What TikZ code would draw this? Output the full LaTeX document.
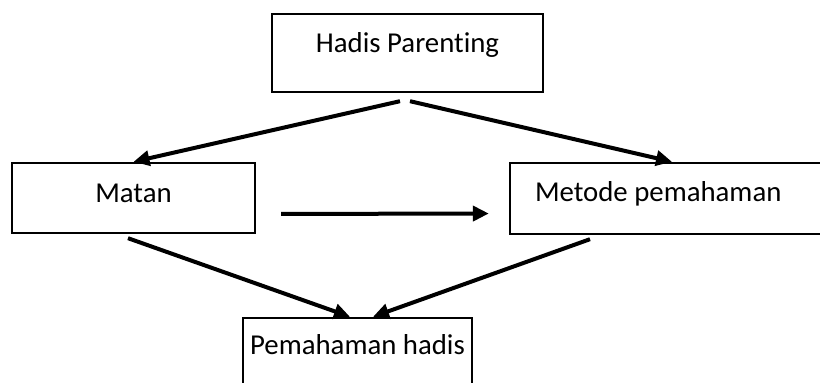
\documentclass[tikz,border=0pt]{standalone}
\usepackage{fontspec}
\setmainfont{Carlito}[Ligatures={NoCommon}]
\usetikzlibrary{arrows.meta,calc}
\tikzset{
  box/.style={draw, line width=1.2pt, inner xsep=0pt, inner ysep=0pt, font=\fontsize{14.4}{17}\selectfont},
  arr/.style={-{Triangle[length=8pt,width=7.5pt]}, line width=2pt},
}
\begin{document}
\begin{tikzpicture}[x=0.5pt,y=-0.5pt]
\useasboundingbox (0,0) rectangle (820,383);
\clip (0,0) rectangle (820,383);
% boxes
\node[box, minimum width=135.5pt, text height=19.5pt, text depth=19.5pt] (hadis) at (407.5,53) {Hadis Parenting};
\node[box, minimum width=121.5pt, text height=20pt, text depth=15pt] (matan) at (133.5,198) {Matan};
\node[box, inner xsep=12.5pt, text width=137pt, align=flush left, text height=19.5pt, text depth=16pt] (metode) at (672,198.5) {Metode pemahaman};
\node[box, minimum width=114.5pt, text height=18.5pt, text depth=22.5pt] (paham) at (357.5,359) {Pemahaman hadis};
% arrows
\draw[arr] ($(hadis.south)+(-7.5,8)$) -- (matan.north);
\draw[arr] ($(hadis.south)+(2.5,8)$) -- (metode.north);
\draw[arr, shorten <=12.5pt, shorten >=10pt] ($(matan.east)+(0,16)$) -- ($(metode.west)+(0,15)$);
\draw[arr] ($(matan.south)+(-5.5,4)$) -- ($(paham.north)+(-7.5,0)$);
\draw[arr] ($(metode.south)+(-82,4)$) -- ($(paham.north)+(15.5,0)$);
\end{tikzpicture}
\end{document}
